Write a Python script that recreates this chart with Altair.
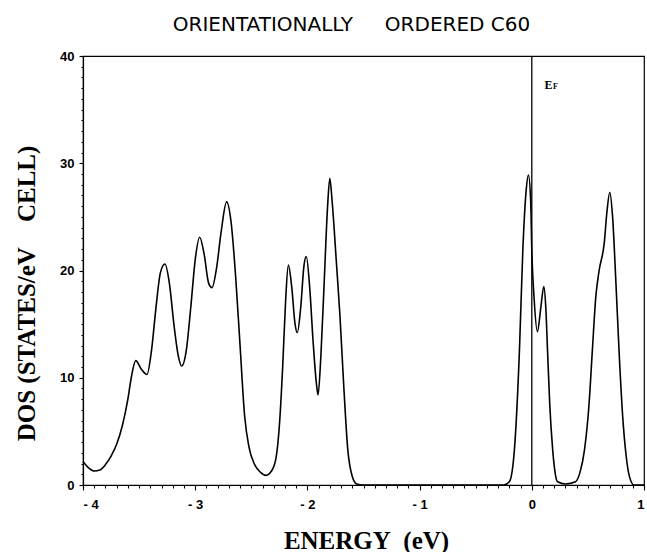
import altair as alt
import pandas as pd

# Density of states
energy = [-4.00, -3.95, -3.90, -3.85, -3.80, -3.75, -3.70, -3.65, -3.60, -3.57,
          -3.53, -3.48, -3.43, -3.39, -3.35, -3.31, -3.27, -3.23, -3.19, -3.15,
          -3.12, -3.08, -3.04, -3.00, -2.96, -2.92, -2.88, -2.85, -2.81, -2.77,
          -2.72, -2.68, -2.64, -2.60, -2.56, -2.52, -2.47, -2.42, -2.37, -2.32,
          -2.28, -2.25, -2.22, -2.195, -2.17, -2.14, -2.11, -2.09, -2.06, -2.03,
          -2.01, -1.98, -1.95, -1.92, -1.905, -1.88, -1.85, -1.82, -1.80, -1.78,
          -1.74, -1.71, -1.68, -1.64, -1.60, -1.56, -1.50, -0.25, -0.20, -0.155,
          -0.11, -0.08, -0.05, -0.03, -0.01, 0.00, 0.02, 0.05, 0.08, 0.107,
          0.125, 0.14, 0.16, 0.186, 0.21, 0.23, 0.30, 0.39, 0.43, 0.47,
          0.51, 0.54, 0.57, 0.60, 0.645, 0.67, 0.695, 0.72, 0.75, 0.78,
          0.81, 0.84, 0.87, 0.91, 1.00]
dos = [2.2, 1.6, 1.3, 1.4, 1.9, 2.7, 3.8, 5.5, 8.0, 10.0,
       11.6, 10.8, 10.3, 12.5, 16.5, 19.8, 20.6, 18.8, 15.0, 12.0,
       11.1, 12.5, 16.5, 21.0, 23.1, 21.5, 18.8, 18.4, 20.2, 23.5,
       26.4, 24.5, 19.5, 13.0, 6.5, 3.5, 1.9, 1.2, 0.9, 1.3,
       2.5, 5.5, 11.1, 17.0, 20.5, 18.5, 15.0, 14.2, 16.5, 20.5,
       21.3, 18.5, 13.5, 9.5, 8.4, 12.0, 19.0, 26.0, 28.6, 26.5,
       20.5, 15.8, 10.0, 3.3, 0.8, 0.1, 0.0, 0.0, 0.3, 3.3,
       12.6, 21.9, 27.5, 28.9, 26.5, 21.9, 17.5, 14.3, 16.5, 18.5,
       16.5, 12.6, 7.5, 3.3, 1.0, 0.3, 0.1, 0.3, 1.2, 3.3,
       7.5, 12.6, 17.5, 20.0, 22.5, 25.5, 27.3, 25.0, 18.8, 12.0,
       6.4, 2.8, 0.8, 0.0, 0.0]

x_major = [-4, -3, -2, -1, 0, 1]
x_minor = [round(-4 + 0.1 * i, 1) for i in range(51)]
y_major = [0, 10, 20, 30, 40]
y_minor = list(range(0, 41))

fermi_energy = [0.0]
ef_main = ["E"]
ef_sub = ["F"]

NB = "\u00a0"
title_text = "ORIENTATIONALLY" + NB * 5 + "ORDERED C60"
x_title = "ENERGY" + NB * 2 + "(eV)"
y_title = "DOS (STATES/eV" + NB * 4 + "CELL)"

df = pd.DataFrame({"energy": energy, "dos": dos})

xscale = alt.Scale(domain=[-4, 1], nice=False, zero=False)
yscale = alt.Scale(domain=[0, 40], nice=False, zero=False)

line = alt.Chart(df).mark_line(color="black", strokeWidth=1.6, interpolate="monotone").encode(
    x=alt.X("energy:Q", scale=xscale,
            axis=alt.Axis(values=x_major, orient="bottom", tickSize=5, labelPadding=8,
                          labelBaseline="top",
                          labelExpr="datum.value < 0 ? '- ' + abs(datum.value) : datum.label",
                          title=x_title, titleFont="Liberation Serif", titleFontSize=25,
                          titleFontWeight="bold", titleX=283, titleY=63, titleAlign="center",
                          titleBaseline="alphabetic", grid=False)),
    y=alt.Y("dos:Q", scale=yscale,
            axis=alt.Axis(values=y_major, orient="left", tickSize=4, labelPadding=5,
                          title=y_title, titleFont="Liberation Serif",
                          titleFontSize=25, titleFontWeight="bold", titleAngle=270,
                          titleX=-57, titleY=237, titleAlign="center", titleBaseline="middle",
                          grid=False)),
)

ef_df = pd.DataFrame({"e": fermi_energy, "lo": [0], "hi": [40]})
rule = alt.Chart(ef_df).mark_rule(color="black", strokeWidth=1.3).encode(
    x=alt.X("e:Q", scale=xscale,
            axis=alt.Axis(values=x_minor, orient="bottom", labels=False, tickSize=3,
                          domain=False, grid=False, title="")),
    y=alt.Y("lo:Q", scale=yscale,
            axis=alt.Axis(values=y_minor, orient="left", labels=False, tickSize=2,
                          domain=False, grid=False, title="")),
    y2="hi:Q",
)

e_df = pd.DataFrame({"t": ef_main, "x": [0.113], "y": [36.9]})
f_df = pd.DataFrame({"t": ef_sub, "x": [0.19], "y": [36.9]})
e_text = alt.Chart(e_df).mark_text(font="Liberation Serif", fontWeight="bold", fontSize=12,
                                   align="left", baseline="alphabetic", color="black").encode(
    x=alt.X("x:Q", axis=None), y=alt.Y("y:Q", axis=None), text="t:N")
f_text = alt.Chart(f_df).mark_text(font="Liberation Serif", fontWeight="bold", fontSize=8,
                                   align="left", baseline="alphabetic", color="black").encode(
    x=alt.X("x:Q", axis=None), y=alt.Y("y:Q", axis=None), text="t:N")

chart = alt.layer(line, rule, e_text, f_text).resolve_axis(
    x="independent", y="independent"
).properties(
    width=561, height=429,
    title=alt.TitleParams(title_text, font="DejaVu Sans", fontSize=20,
                          fontWeight="normal", color="black", anchor="middle", dx=-12,
                          baseline="alphabetic", offset=-1),
    autosize=alt.AutoSizeParams(type="none"),
    padding={"left": 83, "top": 56, "right": 3, "bottom": 67},
    background="white",
).configure_view(stroke="black", strokeWidth=1.2).configure_axis(
    labelFont="Liberation Sans", labelFontWeight="bold", labelFontSize=13, labelColor="black",
    tickColor="black", domainColor="black", domainWidth=1.2, tickWidth=1.1,
)

chart.save("out.html", embed_options={"renderer": "svg", "actions": False})
